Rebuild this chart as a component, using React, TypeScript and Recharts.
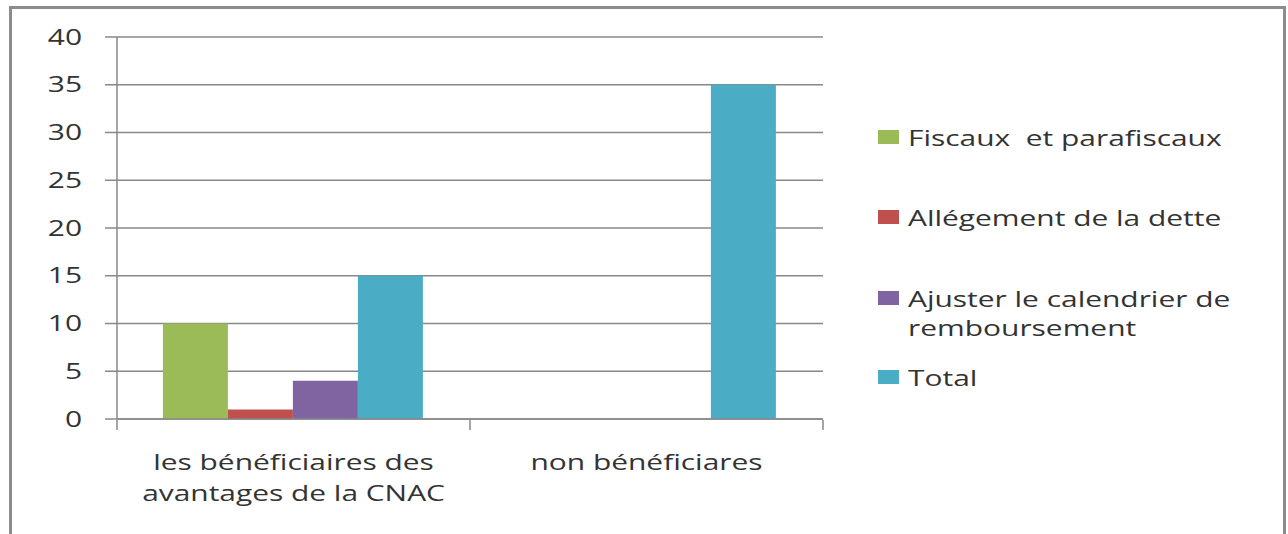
import React from "react";
import {
  BarChart,
  Bar,
  XAxis,
  YAxis,
  CartesianGrid,
} from "recharts";

// chart values
const categories = [
  "les bénéficiaires des avantages de la CNAC",
  "non bénéficiares",
];
const categoryLines = [
  ["les bénéficiaires des", "avantages de la CNAC"],
  ["non bénéficiares"],
];
const fiscaux = [10, 0];
const allegement = [1, 0];
const ajuster = [4, 0];
const total = [15, 35];
const yTicks = [0, 5, 10, 15, 20, 25, 30, 35, 40];
// category boundaries, where the x axis carries its tick marks
const frameTicks = [0, 1, 2];

const series = [
  { key: "fiscaux", lines: ["Fiscaux  et parafiscaux"], color: "#9BBB59" },
  { key: "allegement", lines: ["Allégement de la dette"], color: "#C0504D" },
  {
    key: "ajuster",
    lines: ["Ajuster le calendrier de", "remboursement"],
    color: "#8064A2",
  },
  { key: "total", lines: ["Total"], color: "#4BACC6" },
];

const data = categories.map((name, i) => ({
  name,
  pos: i + 0.5,
  fiscaux: fiscaux[i],
  allegement: allegement[i],
  ajuster: ajuster[i],
  total: total[i],
}));

const FONT = "'Open Sans', sans-serif";
const TEXT = "#333333";
const GRID = "#888888";
const STRETCH = 1.36;

function YTick({ x, y, payload }: any) {
  return (
    <g transform={`translate(${x},${y})`}>
      <text
        transform={`scale(${STRETCH},1)`}
        textAnchor="end"
        dy="0.35em"
        fontFamily={FONT}
        fontSize={22}
        fill={TEXT}
      >
        {payload.value}
      </text>
    </g>
  );
}

function XTick({ x, y, index }: any) {
  const lines = categoryLines[index] || [];
  return (
    <g transform={`translate(${x},${y})`}>
      {lines.map((line, i) => (
        <text
          key={i}
          transform={`scale(${STRETCH},1)`}
          textAnchor="middle"
          y={51 + i * 31}
          fontFamily={FONT}
          fontSize={22}
          fill={TEXT}
        >
          {line}
        </text>
      ))}
    </g>
  );
}

function EmptyTick() {
  return <g />;
}

// vertical centre of each legend entry's first line
const legendTops = [137, 217, 298, 377];

function ChartLegend() {
  return (
    <div style={{ position: "absolute", left: 0, top: 0 }}>
      {series.map((s, i) => (
        <div
          key={s.key}
          style={{ position: "absolute", left: 878, top: legendTops[i] - 15 }}
        >
          <div
            style={{
              position: "absolute",
              left: 0,
              top: 8,
              width: 21,
              height: 14,
              background: s.color,
            }}
          />
          {s.lines.map((line, j) => (
            <div
              key={j}
              style={{
                position: "absolute",
                left: 30,
                top: j * 29,
                height: 30,
                lineHeight: "30px",
                fontFamily: FONT,
                fontSize: 22,
                color: TEXT,
                whiteSpace: "pre",
                transform: `scaleX(${STRETCH})`,
                transformOrigin: "left center",
              }}
            >
              {line}
            </div>
          ))}
        </div>
      ))}
    </div>
  );
}

export default function App() {
  return (
    <div
      style={{
        position: "fixed",
        left: 0,
        top: 0,
        width: 1288,
        height: 534,
        overflow: "hidden",
        background: "#ffffff",
      }}
    >
      <div
        style={{
          position: "absolute",
          left: 9,
          top: 6,
          width: 1271,
          height: 560,
          border: "3px solid #8c8c8c",
        }}
      />
      <div style={{ position: "absolute", left: 0, top: 0 }}>
        <BarChart
          width={1288}
          height={534}
          data={data}
          margin={{ top: 37, right: 465, bottom: 113, left: 0 }}
          barCategoryGap="13%"
          barGap={0}
        >
          <CartesianGrid
            horizontal
            vertical={false}
            stroke={GRID}
            strokeWidth={1.5}
          />
          <XAxis
            xAxisId="frame"
            dataKey="pos"
            type="number"
            domain={[0, 2]}
            ticks={frameTicks}
            interval={0}
            allowDataOverflow
            height={1}
            axisLine={false}
            tick={<EmptyTick />}
            tickLine={{ stroke: GRID, strokeWidth: 1.5 }}
            tickSize={10}
          />
          <XAxis
            dataKey="name"
            height={1}
            axisLine={{ stroke: GRID, strokeWidth: 1.5 }}
            tickLine={false}
            tickSize={0}
            tickMargin={0}
            tick={<XTick />}
            interval={0}
          />
          <YAxis
            width={117}
            domain={[0, 40]}
            ticks={yTicks}
            interval={0}
            axisLine={{ stroke: GRID, strokeWidth: 1.5 }}
            tickLine={{ stroke: GRID, strokeWidth: 1.5 }}
            tickSize={12}
            tickMargin={23}
            tick={<YTick />}
          />
          {series.map((s) => (
            <Bar
              key={s.key}
              dataKey={s.key}
              fill={s.color}
              isAnimationActive={false}
            />
          ))}
        </BarChart>
      </div>
      <ChartLegend />
    </div>
  );
}
